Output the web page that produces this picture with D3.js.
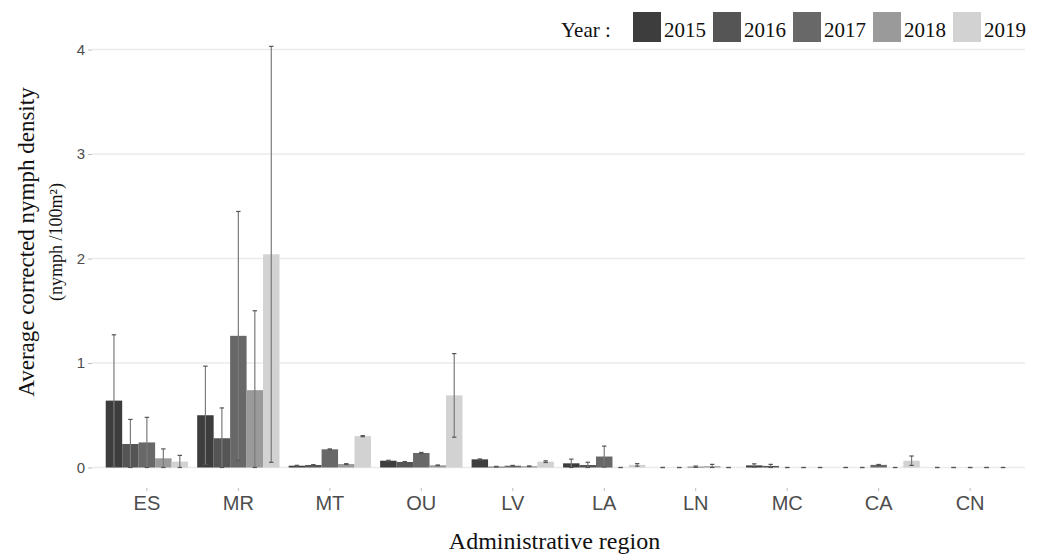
<!DOCTYPE html>
<html>
<head>
<meta charset="utf-8">
<script src="https://cdn.jsdelivr.net/npm/d3@7"></script>
<style>
  html, body { margin: 0; padding: 0; background: #fff; }
  svg { display: block; }
</style>
</head>
<body>
<svg id="chart" width="1043" height="558"></svg>
<script>
// Administrative regions and survey years
const regions = ["ES", "MR", "MT", "OU", "LV", "LA", "LN", "MC", "CA", "CN"];
const years = ["2015", "2016", "2017", "2018", "2019"];
const yTicks = [0, 1, 2, 3, 4];

// Mean corrected nymph density per region, one array per year
const mean2015 = [0.64, 0.50, 0.017, 0.065, 0.078, 0.040, 0, 0.020, 0, 0];
const mean2016 = [0.225, 0.28, 0.024, 0.053, 0.008, 0.024, 0, 0.015, 0, 0];
const mean2017 = [0.24, 1.26, 0.174, 0.139, 0.017, 0.105, 0.008, 0, 0.025, 0];
const mean2018 = [0.088, 0.74, 0.033, 0.021, 0.012, 0, 0.012, 0, 0, 0];
const mean2019 = [0.056, 2.04, 0.30, 0.69, 0.056, 0.025, 0, 0, 0.065, 0];

// Standard deviation (error bar half-length) per region, one array per year
const sd2015 = [0.63, 0.47, 0.004, 0.004, 0.004, 0.040, 0, 0.015, 0, 0];
const sd2016 = [0.235, 0.29, 0.004, 0.004, 0.003, 0.026, 0, 0.015, 0, 0];
const sd2017 = [0.24, 1.19, 0.004, 0.005, 0.003, 0.100, 0.006, 0, 0.004, 0];
const sd2018 = [0.09, 0.76, 0.004, 0.003, 0.003, 0, 0.018, 0, 0, 0];
const sd2019 = [0.06, 1.99, 0.005, 0.40, 0.008, 0.012, 0, 0, 0.045, 0];

const yearColors = ["#3d3d3d", "#555555", "#686868", "#9a9a9a", "#d2d2d2"];

const means = [mean2015, mean2016, mean2017, mean2018, mean2019];
const sds = [sd2015, sd2016, sd2017, sd2018, sd2019];

const rows = [];
regions.forEach((r, i) => {
  years.forEach((yr, j) => {
    rows.push({ region: r, year: yr, value: means[j][i], sd: sds[j][i] });
  });
});

const svg = d3.select("#chart");
const panel = { left: 92, right: 1025, top: 25, bottom: 488 };

const x0 = d3.scaleBand()
  .domain(regions)
  .range([panel.left, panel.right])
  .paddingInner(0)
  .paddingOuter(0.1);

const x1 = d3.scaleBand()
  .domain(years)
  .range([x0.bandwidth() * 0.05, x0.bandwidth() * 0.95]);

const y = d3.scaleLinear().domain([0, 4]).range([467.5, 49.5]);

const color = d3.scaleOrdinal().domain(years).range(yearColors);

// Horizontal grid lines
svg.append("g")
  .selectAll("line")
  .data(yTicks)
  .join("line")
  .attr("x1", panel.left)
  .attr("x2", panel.right)
  .attr("y1", d => y(d))
  .attr("y2", d => y(d))
  .attr("stroke", "#ebebeb")
  .attr("stroke-width", 1.4);

// Y axis (ticks + labels, no domain line)
const yAxis = svg.append("g")
  .attr("transform", `translate(${panel.left},0)`)
  .call(d3.axisLeft(y).tickValues(yTicks).tickFormat(d3.format("d")).tickSize(4).tickPadding(3));
yAxis.select(".domain").remove();
yAxis.selectAll(".tick line").attr("stroke", "#bdbdbd");
yAxis.selectAll(".tick text")
  .attr("fill", "#4d4d4d")
  .style("font-family", "'Liberation Sans', Arial, sans-serif")
  .style("font-size", "15px");

// X axis
const xAxis = svg.append("g")
  .attr("transform", `translate(0,${panel.bottom})`)
  .call(d3.axisBottom(x0).tickSize(3).tickPadding(5));
xAxis.select(".domain").remove();
xAxis.selectAll(".tick line").attr("stroke", "#bdbdbd");
xAxis.selectAll(".tick text")
  .attr("fill", "#4d4d4d")
  .style("font-family", "'Liberation Sans', Arial, sans-serif")
  .style("font-size", "20px");

// Bars
const groups = svg.append("g")
  .selectAll("g")
  .data(regions)
  .join("g")
  .attr("transform", d => `translate(${x0(d)},0)`);

groups.selectAll("rect")
  .data(r => rows.filter(d => d.region === r))
  .join("rect")
  .attr("x", d => x1(d.year))
  .attr("width", x1.bandwidth())
  .attr("y", d => y(d.value))
  .attr("height", d => y(0) - y(d.value))
  .attr("fill", d => color(d.year));

// Error bars (mean ± sd, floored at zero)
const capHalf = 2.2;
const eb = groups.selectAll("g.err")
  .data(r => rows.filter(d => d.region === r))
  .join("g")
  .attr("class", "err")
  .attr("stroke", "#7a7a7a")
  .attr("stroke-width", 1.2);

eb.append("line")
  .attr("x1", d => x1(d.year) + x1.bandwidth() / 2)
  .attr("x2", d => x1(d.year) + x1.bandwidth() / 2)
  .attr("y1", d => y(Math.max(0, d.value - d.sd)))
  .attr("y2", d => y(d.value + d.sd));
eb.append("line")
  .attr("x1", d => x1(d.year) + x1.bandwidth() / 2 - capHalf)
  .attr("x2", d => x1(d.year) + x1.bandwidth() / 2 + capHalf)
  .attr("y1", d => y(d.value + d.sd))
  .attr("y2", d => y(d.value + d.sd))
  .attr("stroke", "#555");
eb.append("line")
  .attr("x1", d => x1(d.year) + x1.bandwidth() / 2 - capHalf)
  .attr("x2", d => x1(d.year) + x1.bandwidth() / 2 + capHalf)
  .attr("y1", d => y(Math.max(0, d.value - d.sd)))
  .attr("y2", d => y(Math.max(0, d.value - d.sd)))
  .attr("stroke", "#555");

// Axis titles
const serif = "'Liberation Serif', 'Times New Roman', serif";
svg.append("text")
  .attr("transform", `translate(34,242) rotate(-90)`)
  .attr("text-anchor", "middle")
  .style("font-family", serif)
  .style("font-size", "23px")
  .attr("fill", "#111")
  .text("Average corrected nymph density");
svg.append("text")
  .attr("transform", `translate(62,242) rotate(-90)`)
  .attr("text-anchor", "middle")
  .style("font-family", serif)
  .style("font-size", "18px")
  .attr("fill", "#111")
  .text("(nymph /100m²)");

svg.append("text")
  .attr("x", (panel.left + panel.right) / 2 - 4)
  .attr("y", 549)
  .attr("text-anchor", "middle")
  .style("font-family", serif)
  .style("font-size", "24px")
  .attr("fill", "#111")
  .text("Administrative region");

// Legend
const legend = svg.append("g").attr("transform", "translate(0,30)");
legend.append("text")
  .attr("x", 561)
  .attr("y", 7)
  .style("font-family", serif)
  .style("font-size", "21px")
  .attr("fill", "#111")
  .text("Year :");
const leg = legend.selectAll("g.key")
  .data(years)
  .join("g")
  .attr("class", "key")
  .attr("transform", (d, i) => `translate(${633 + i * 80},0)`);
leg.append("rect")
  .attr("x", 0)
  .attr("y", -18)
  .attr("width", 28)
  .attr("height", 30)
  .attr("fill", d => color(d));
leg.append("text")
  .attr("x", 31)
  .attr("y", 7)
  .style("font-family", serif)
  .style("font-size", "21px")
  .attr("fill", "#111")
  .text(d => d);
</script>
</body>
</html>
